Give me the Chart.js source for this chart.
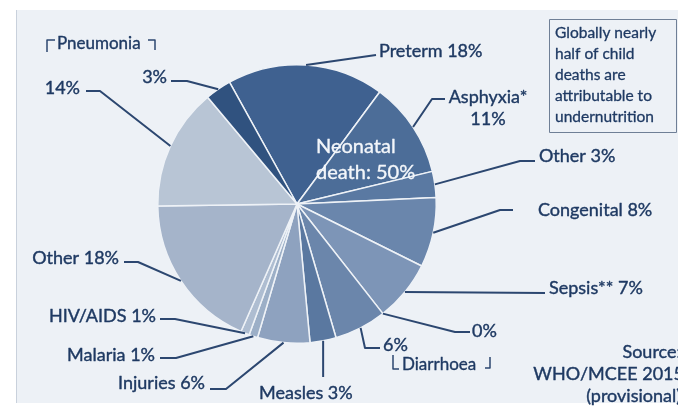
<!DOCTYPE html>
<html>
<head>
<meta charset="utf-8">
<script src="https://cdn.jsdelivr.net/npm/chart.js@4.4.1/dist/chart.umd.min.js"></script>
<style>
  html, body { margin: 0; padding: 0; background: #fff; }
  canvas { display: block; }
</style>
</head>
<body>
<canvas id="myChart" width="678" height="412"></canvas>
<script>
// causes of under-five deaths, clockwise from the top
var causes = ['Preterm', 'Asphyxia*', 'Other', 'Congenital', 'Sepsis**', 'Diarrhoea (neonatal)',
              'Diarrhoea', 'Measles', 'Injuries', 'Malaria', 'HIV/AIDS', 'Other', 'Pneumonia', 'Pneumonia (neonatal)'];
var shares = [18, 11, 3, 8, 7, 0, 6, 3, 6, 1, 1, 18, 14, 3];
var sliceColors = ['#3f6190', '#4c6d98', '#5a79a2', '#6a86ac', '#7d95b7', '#6c87ad',
                   '#6b86ab', '#5a78a0', '#8ea2bf', '#9cafc7', '#aebdd1', '#a5b4ca', '#b8c5d5', '#30527f'];
// slices whose label shows only the share (name is given by a bracket)
var shortLabel = [false, false, false, false, false, true, true, false, false, false, false, false, true, true];

var neonatalLines = ['Neonatal', 'death: 50%'];
var noteLines = ['Globally nearly', 'half of child', 'deaths are', 'attributable to', 'undernutrition'];
var sourceLines = ['Source:', 'WHO/MCEE 2015', '(provisional)'];

var textColor = '#1f3a63';
var lineColor = '#2c4770';

// leader line bends and label anchors, one per slice
var leaders = [
    { i: 0,  path: [[376, 55]],              at: [379, 51],  align: 'left' },
    { i: 1,  path: [[432, 99], [445, 99]],   at: [488, 97],  align: 'center', wrap: true },
    { i: 2,  path: [[520, 161], [535, 161]], at: [539, 156], align: 'left' },
    { i: 3,  path: [[500, 210], [513, 210]], at: [538, 210], align: 'left' },
    { i: 4,  path: [[545, 293]],             at: [549, 288], align: 'left' },
    { i: 5,  path: [[455, 332], [470, 332]], at: [472, 331], align: 'left' },
    { i: 6,  path: [[365, 348], [380, 348]], at: [383, 345], align: 'left' },
    { i: 7,  path: [[null, 377]],            at: [259, 393], align: 'left' },
    { i: 8,  path: [[226, 389], [210, 389]], at: [205, 383], align: 'right' },
    { i: 9,  path: [[176, 358], [160, 358]], at: [155, 355], align: 'right' },
    { i: 10, path: [[175, 319], [160, 319]], at: [156, 316], align: 'right' },
    { i: 11, path: [[138, 262], [124, 262]], at: [119, 258], align: 'right' },
    { i: 12, path: [[100, 91], [86, 91]],    at: [80, 88],   align: 'right' },
    { i: 13, path: [[187, 81], [171, 81]],   at: [167, 77],  align: 'right' }
];

function labelFor(i) {
    var pct = shares[i] + '%';
    if (shortLabel[i]) return [pct];
    var l = leaders.filter(function (d) { return d.i === i; })[0];
    return l && l.wrap ? [causes[i], pct] : [causes[i] + ' ' + pct];
}

// fill plus a hairline stroke, gives the text a bit more weight
function heavyText(ctx, t, x, y) {
    ctx.fillText(t, x, y);
    ctx.strokeText(t, x, y);
}

var panel = {
    id: 'panel',
    beforeDraw: function (chart) {
        var ctx = chart.ctx;
        ctx.save();
        ctx.fillStyle = '#ffffff';
        ctx.fillRect(0, 0, chart.width, chart.height);
        ctx.fillStyle = '#edf1f6';
        ctx.fillRect(16, 10, chart.width - 16, 393);
        ctx.strokeStyle = '#c9d1dc';
        ctx.lineWidth = 1;
        ctx.beginPath();
        ctx.moveTo(16.5, 10);
        ctx.lineTo(16.5, 403);
        ctx.stroke();
        ctx.restore();
    }
};

var callouts = {
    id: 'callouts',
    afterDatasetsDraw: function (chart) {
        var ctx = chart.ctx;
        var arcs = chart.getDatasetMeta(0).data;
        ctx.save();
        ctx.lineJoin = 'round';
        ctx.fillStyle = textColor;
        ctx.textBaseline = 'middle';

        leaders.forEach(function (l) {
            var a = arcs[l.i].getProps(['x', 'y', 'startAngle', 'endAngle', 'outerRadius'], true);
            var mid = (a.startAngle + a.endAngle) / 2;
            var px = a.x + Math.cos(mid) * a.outerRadius;
            var py = a.y + Math.sin(mid) * a.outerRadius;
            ctx.strokeStyle = lineColor;
            ctx.lineWidth = 2;
            ctx.beginPath();
            ctx.moveTo(px, py);
            l.path.forEach(function (p) {
                var x = p[0] === null ? px : p[0];
                ctx.lineTo(x, p[1]);
                px = x;
            });
            ctx.stroke();

            ctx.strokeStyle = textColor;
            ctx.lineWidth = 0.4;
            ctx.font = '18px Lato';
            ctx.textAlign = l.align;
            labelFor(l.i).forEach(function (t, k) {
                heavyText(ctx, t, l.at[0], l.at[1] + k * 22);
            });
        });

        // brackets naming the split slices
        ctx.strokeStyle = lineColor;
        ctx.lineWidth = 1.5;
        ctx.beginPath();
        ctx.moveTo(47, 52); ctx.lineTo(47, 40); ctx.lineTo(55, 40);
        ctx.moveTo(148, 40); ctx.lineTo(155, 40); ctx.lineTo(155, 50);
        ctx.moveTo(393, 355); ctx.lineTo(393, 369); ctx.lineTo(399, 369);
        ctx.moveTo(485, 368); ctx.lineTo(490, 368); ctx.lineTo(490, 357);
        ctx.stroke();
        ctx.strokeStyle = textColor;
        ctx.lineWidth = 0.35;
        ctx.font = '17px Lato';
        ctx.textAlign = 'left';
        heavyText(ctx, causes[12], 57, 44);
        heavyText(ctx, causes[6], 402, 365);

        // neonatal share written across the dark slices
        ctx.fillStyle = '#f3f6fa';
        ctx.strokeStyle = '#f3f6fa';
        ctx.font = '20px Lato';
        neonatalLines.forEach(function (t, k) {
            heavyText(ctx, t, 316, 147 + k * 26);
        });

        // note box
        ctx.strokeStyle = '#6f7f96';
        ctx.lineWidth = 1;
        ctx.strokeRect(549.5, 19.5, 127, 113);
        ctx.fillStyle = textColor;
        ctx.strokeStyle = textColor;
        ctx.lineWidth = 0.3;
        ctx.font = '15.5px Lato';
        noteLines.forEach(function (t, k) {
            heavyText(ctx, t, 555, 33 + k * 21);
        });

        // source
        ctx.lineWidth = 0.4;
        ctx.font = '18px Lato';
        ctx.textAlign = 'right';
        sourceLines.forEach(function (t, k) {
            heavyText(ctx, t, k === 1 ? 684 : 681, 352 + k * 22);
        });
        ctx.restore();
    }
};

function draw() {
    var ctx = document.getElementById('myChart').getContext('2d');
    new Chart(ctx, {
        type: 'pie',
        data: {
            labels: causes,
            datasets: [{
                data: shares,
                backgroundColor: sliceColors,
                borderColor: '#eef2f7',
                borderWidth: 1.5
            }]
        },
        options: {
            responsive: false,
            animation: false,
            rotation: -29,
            layout: { padding: { left: 157, right: 241, top: 64, bottom: 68 } },
            plugins: {
                legend: { display: false },
                tooltip: { enabled: false }
            }
        },
        plugins: [panel, callouts]
    });
}

if (document.fonts && document.fonts.load) {
    Promise.all([document.fonts.load('18px Lato'), document.fonts.load('15px Lato')]).then(draw, draw);
} else {
    draw();
}
</script>
</body>
</html>
